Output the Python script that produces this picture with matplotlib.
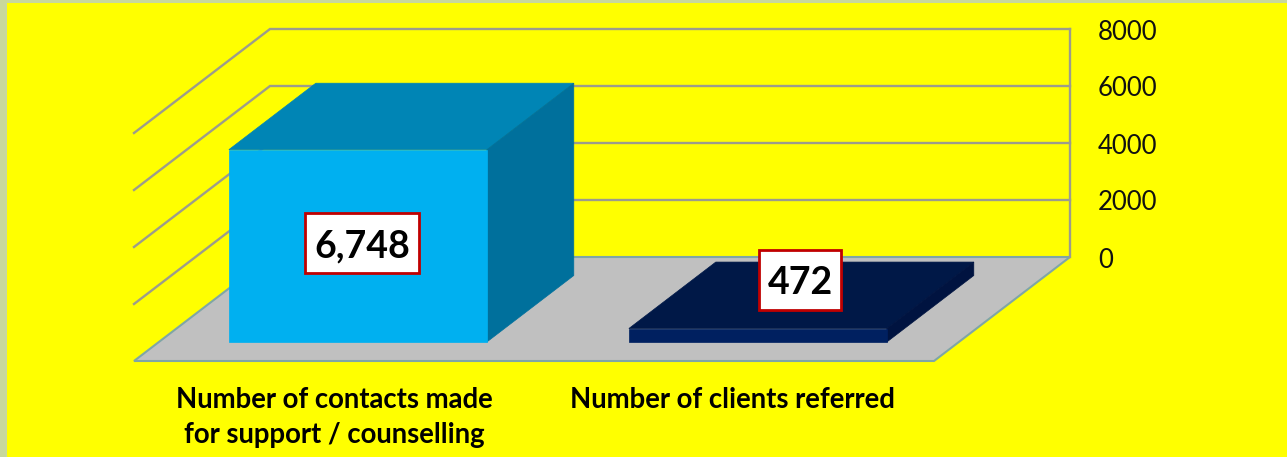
import matplotlib.pyplot as plt
from matplotlib.patches import Polygon, Rectangle

categories = ["Number of contacts made\nfor support / counselling", "Number of clients referred"]
values = [6748, 472]
value_labels = ["6,748", "472"]
ticks = [0, 2000, 4000, 6000, 8000]

front_colors = ["#00B0F0", "#002060"]
top_colors = ["#0085B5", "#001847"]
side_colors = ["#00709C", "#001340"]

plt.rcParams['font.family'] = ['Lato', 'DejaVu Sans']

W, H = 1287, 457
px_x = 400.0      # pixels per category
px_y = 228 / 8000 # pixels per unit of value
x0 = 134          # pixel of front left floor corner
y0 = 257          # pixel of value 0 on the back wall
depth_x = 136
depth_y = 104


def project(x, v, d):
    """3D chart position (category, value, depth 0-1) to 2D axes data coords"""
    return x + d * depth_x / px_x, v + (d - 1) * depth_y / px_y


def box(ax, x1, x2, v, d1, d2, front, top, side):
    p = lambda x, val, d: project(x, val, d)
    ax.add_patch(Polygon([p(x1, v, d1), p(x2, v, d1), p(x2, v, d2), p(x1, v, d2)], fc=top, ec=top, lw=0.5, zorder=3))
    ax.add_patch(Polygon([p(x2, 0, d1), p(x2, v, d1), p(x2, v, d2), p(x2, 0, d2)], fc=side, ec=side, lw=0.5, zorder=3))
    ax.add_patch(Polygon([p(x1, 0, d1), p(x2, 0, d1), p(x2, v, d1), p(x1, v, d1)], fc=front, ec=front, lw=0.5, zorder=4))


fig = plt.figure(figsize=(W / 100, H / 100), dpi=100, facecolor="#C8D89C")
ax = fig.add_axes([0, 0, 1, 1])
ax.set_xlim(-x0 / px_x, (W - x0) / px_x)
ax.set_ylim(-(H - y0) / px_y, y0 / px_y)
ax.axis("off")

# yellow background, leaves the thin border of the slide at the left and top
ax.add_patch(Rectangle((7 / W, 0), 1, 1 - 3 / H, transform=ax.transAxes, fc="#FFFF00", ec="none", zorder=0))

# floor
floor = [project(0, 0, 0), project(2, 0, 0), project(2, 0, 1), project(0, 0, 1)]
ax.add_patch(Polygon(floor, fc="#C0C0C0", ec="#7FA6A6", lw=1.5, zorder=1))

# gridlines on the side wall and back wall
for t in ticks[1:]:
    pts = [project(0, t, 0), project(0, t, 1), project(2, t, 1)]
    ax.plot([q[0] for q in pts], [q[1] for q in pts], color="#9C9C8C", lw=1.7, zorder=2, solid_joinstyle="miter")
right = [project(2, 0, 1), project(2, 8000, 1)]
ax.plot([q[0] for q in right], [q[1] for q in right], color="#9C9C8C", lw=1.7, zorder=2)

for t in ticks:
    xt, yt = project(2, t, 1)
    ax.text(xt + 28 / px_x, yt - 3 / px_y, str(t), fontsize=18.5, color="#111111", va="center", ha="left", zorder=6)

# bars
for i in range(len(values)):
    box(ax, i + 0.175, i + 0.82, values[i], 0.183, 0.822, front_colors[i], top_colors[i], side_colors[i])

# value labels
label_pos = [(362, 243), (800, 280)]
label_size = [(114, 60), (82, 60)]
for i in range(len(values)):
    cx = (label_pos[i][0] - x0) / px_x
    cy = (y0 - label_pos[i][1]) / px_y
    w = label_size[i][0] / px_x
    h = label_size[i][1] / px_y
    ax.add_patch(Rectangle((cx - w / 2, cy - h / 2), w, h, fc="white", ec="#C00000", lw=2, zorder=7))
    ax.text(cx, cy - 3 / px_y, value_labels[i], fontsize=27, fontweight="bold", color="black", ha="center", va="center", zorder=8)

# category labels
for i, c in enumerate(categories):
    ax.text(i + 0.5 - 0.005 * i, (y0 - 387) / px_y, c, fontsize=19.8, fontweight="bold", color="black",
            ha="center", va="top", linespacing=1.45, zorder=6)

fig.savefig("out.png", dpi=100, facecolor=fig.get_facecolor())
